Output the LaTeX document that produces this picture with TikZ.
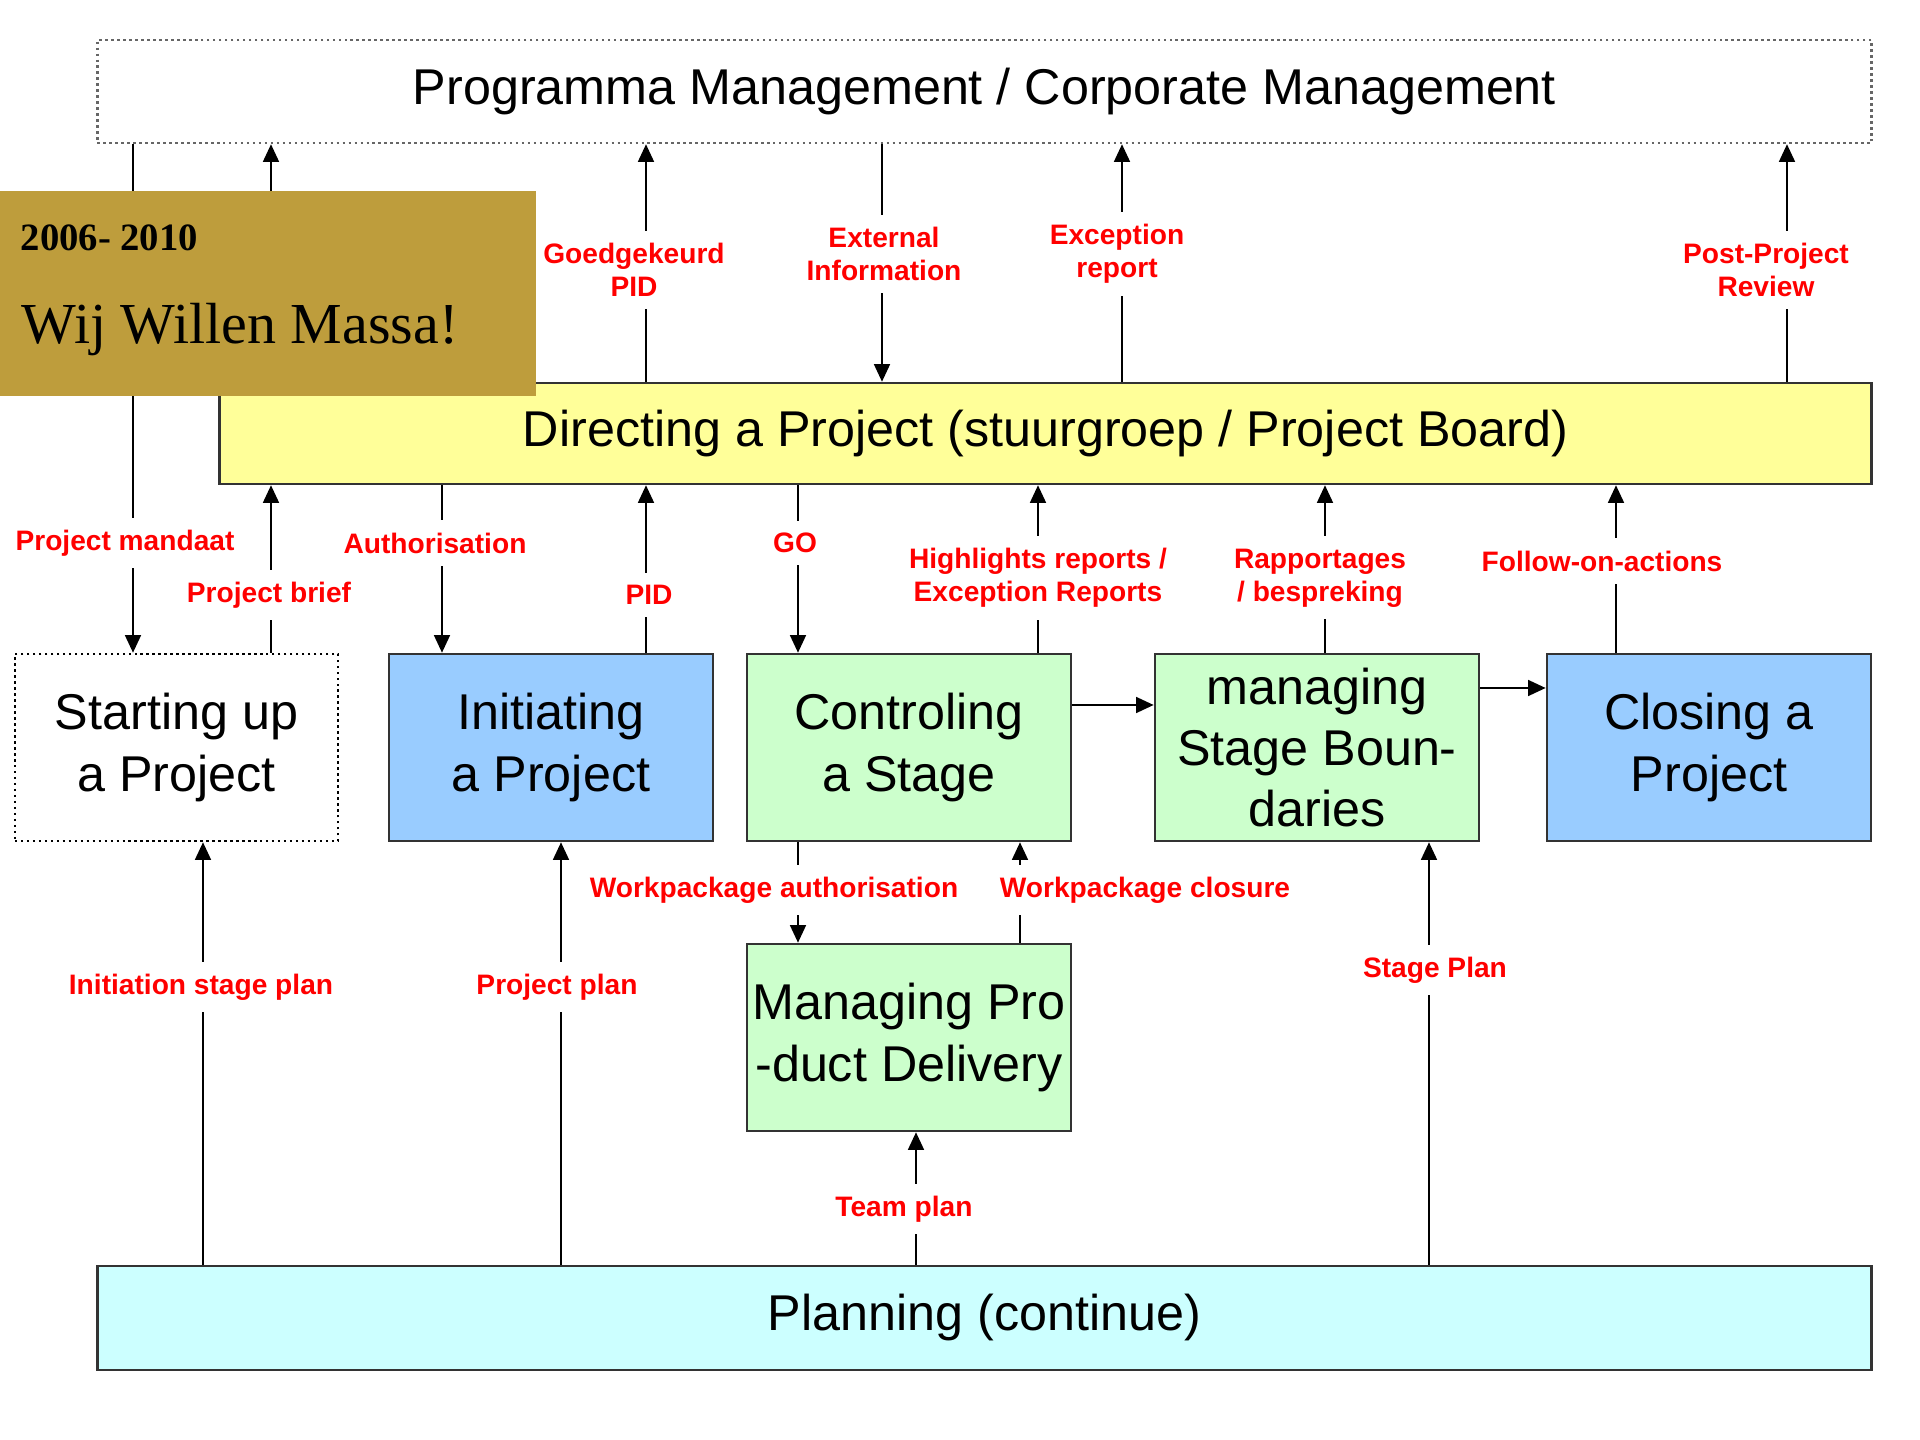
\documentclass[tikz,border=0pt]{standalone}
\usepackage{fontspec}
\setmainfont{Liberation Sans}
\newfontfamily\goldfont{Liberation Serif}
\usetikzlibrary{arrows.meta,positioning}
\definecolor{goldbg}{RGB}{190,157,60}
\definecolor{dirfill}{RGB}{255,255,153}
\definecolor{bluefill}{RGB}{153,204,255}
\definecolor{greenfill}{RGB}{204,255,204}
\definecolor{cyanfill}{RGB}{204,255,255}
\definecolor{lblred}{RGB}{255,0,0}
\tikzstyle{proc} = [draw=black!80,line width=0.7pt,rectangle,inner sep=0,minimum width=3.24cm,minimum height=1.87cm,align=center,font=\fontsize{14.3}{17.4}\selectfont]
\tikzstyle{band} = [proc,minimum width=17.73cm,minimum height=1.03cm]
\tikzstyle{flow} = [-{Triangle[length=5pt,width=4.5pt]},line width=0.6pt]
\tikzstyle{lbl} = [fill=white,text=lblred,font=\fontsize{8}{9.4}\selectfont\bfseries,align=center,inner xsep=1pt,inner ysep=3.5pt]

\begin{document}
\begin{tikzpicture}[x=0.01cm,y=-0.01cm]
  \useasboundingbox[fill=white] (0,0) rectangle (1920,1440);
  % boxes
  \node[band,draw=black!60,densely dotted] (prog) at (984.5,91.5) {Programma Management / Corporate Management};
  \node[band,fill=dirfill,minimum width=16.51cm,minimum height=1.01cm] (dir) at (1045.5,433.5) {Directing a Project (stuurgroep / Project Board)};
  \node[proc,densely dotted,draw=black,minimum width=3.23cm] (start) at (176.5,747.5) {Starting up\\a Project};
  \node[proc,fill=bluefill] (init) at (551,747.5) {Initiating\\a Project};
  \node[proc,fill=greenfill] (ctrl) at (909,747.5) {Controling\\a Stage};
  \node[proc,fill=greenfill] (msb) at (1317,747.5) {managing\\Stage Boun-\\daries};
  \node[proc,fill=bluefill] (close) at (1709,747.5) {Closing a\\Project};
  \node[proc,fill=greenfill] (mpd) at (909,1037.5) {Managing Pro\\-duct Delivery};
  \node[band,fill=cyanfill,minimum height=1.04cm] (plan) at (984.5,1318) {Planning (continue)};
  % line positions
  \coordinate (xmandaat) at (133,0);
  \coordinate (xbrief) at (271,0);
  \coordinate (xauth) at (442,0);
  \coordinate (xpid) at (646,0);
  \coordinate (xgo) at (798,0);
  \coordinate (xext) at (882,0);
  \coordinate (xhigh) at (1038,0);
  \coordinate (xexc) at (1122,0);
  \coordinate (xrap) at (1325,0);
  \coordinate (xfoa) at (1616,0);
  \coordinate (xppr) at (1787,0);
  \coordinate (xisp) at (203,0);
  \coordinate (xpp) at (561,0);
  \coordinate (xteam) at (916,0);
  \coordinate (xclos) at (1020,0);
  \coordinate (xsp) at (1429,0);
  \coordinate (ylow) at (0,705);
  \coordinate (yhigh) at (0,688);
  % connectors
  \draw[flow] (prog.south -| xmandaat) -- (start.north -| xmandaat);
  \draw[flow] (start.north -| xbrief) -- (dir.south -| xbrief);
  \draw[flow] (dir.north -| xbrief) -- (prog.south -| xbrief);
  \draw[flow] (dir.north -| xpid) -- (prog.south -| xpid);
  \draw[flow] (prog.south -| xext) -- (dir.north -| xext);
  \draw[flow] (dir.north -| xexc) -- (prog.south -| xexc);
  \draw[flow] (dir.north -| xppr) -- (prog.south -| xppr);
  \draw[flow] (dir.south -| xauth) -- (init.north -| xauth);
  \draw[flow] (init.north -| xpid) -- (dir.south -| xpid);
  \draw[flow] (dir.south -| xgo) -- (ctrl.north -| xgo);
  \draw[flow] (ctrl.north -| xhigh) -- (dir.south -| xhigh);
  \draw[flow] (msb.north -| xrap) -- (dir.south -| xrap);
  \draw[flow] (close.north -| xfoa) -- (dir.south -| xfoa);
  \draw[flow] (ctrl.east |- ylow) -- (msb.west |- ylow);
  \draw[flow] (msb.east |- yhigh) -- (close.west |- yhigh);
  \draw[flow] (plan.north -| xisp) -- (start.south -| xisp);
  \draw[flow] (plan.north -| xpp) -- (init.south -| xpp);
  \draw[flow] (ctrl.south -| xgo) -- (mpd.north -| xgo);
  \draw[flow] (mpd.north -| xclos) -- (ctrl.south -| xclos);
  \draw[flow] (plan.north -| xteam) -- (mpd.south -| xteam);
  \draw[flow] (plan.north -| xsp) -- (msb.south -| xsp);
  % labels
  \node[lbl] (lgpid) at (634,270) {Goedgekeurd\\PID};
  \node[lbl] (lext) at (884,254) {External\\Information};
  \node[lbl] (lexc) at (1117,254) {Exception\\report};
  \node[lbl] (lppr) at (1766,270) {Post-Project\\Review};
  \node[lbl] (lmandaat) at (125,543) {Project mandaat};
  \node[lbl] (lbrief) at (269,595) {Project brief};
  \node[lbl] (lauth) at (435,543) {Authorisation};
  \node[lbl] (lpid) at (649,595) {PID};
  \node[lbl] (lgo) at (795,543) {GO};
  \node[lbl] (lhigh) at (1038,578) {Highlights reports /\\Exception Reports};
  \node[lbl] (lrap) at (1320,578) {Rapportages\\/ bespreking};
  \node[lbl] (lfoa) at (1602,561) {Follow-on-actions};
  \node[lbl] (lwpa) at (774,890) {Workpackage authorisation};
  \node[lbl] (lwpc) at (1145,890) {Workpackage closure};
  \node[lbl] (lisp) at (201,987) {Initiation stage plan};
  \node[lbl] (lpp) at (557,987) {Project plan};
  \node[lbl] (lsp) at (1435,970) {Stage Plan};
  \node[lbl] (lteam) at (904,1209) {Team plan};
  % overlay
  \node[fill=goldbg,rectangle,inner sep=0,minimum width=5.36cm,minimum height=2.05cm] (gold) at (268,293.5) {};
  \node[anchor=west,inner sep=0,font=\goldfont\bfseries\fontsize{11}{13}\selectfont] (years) at (20,238) {2006- 2010};
  \node[anchor=west,inner sep=0,font=\goldfont\fontsize{16.5}{19}\selectfont] (slogan) at (21,330) {Wij Willen Massa!};
\end{tikzpicture}
\end{document}
